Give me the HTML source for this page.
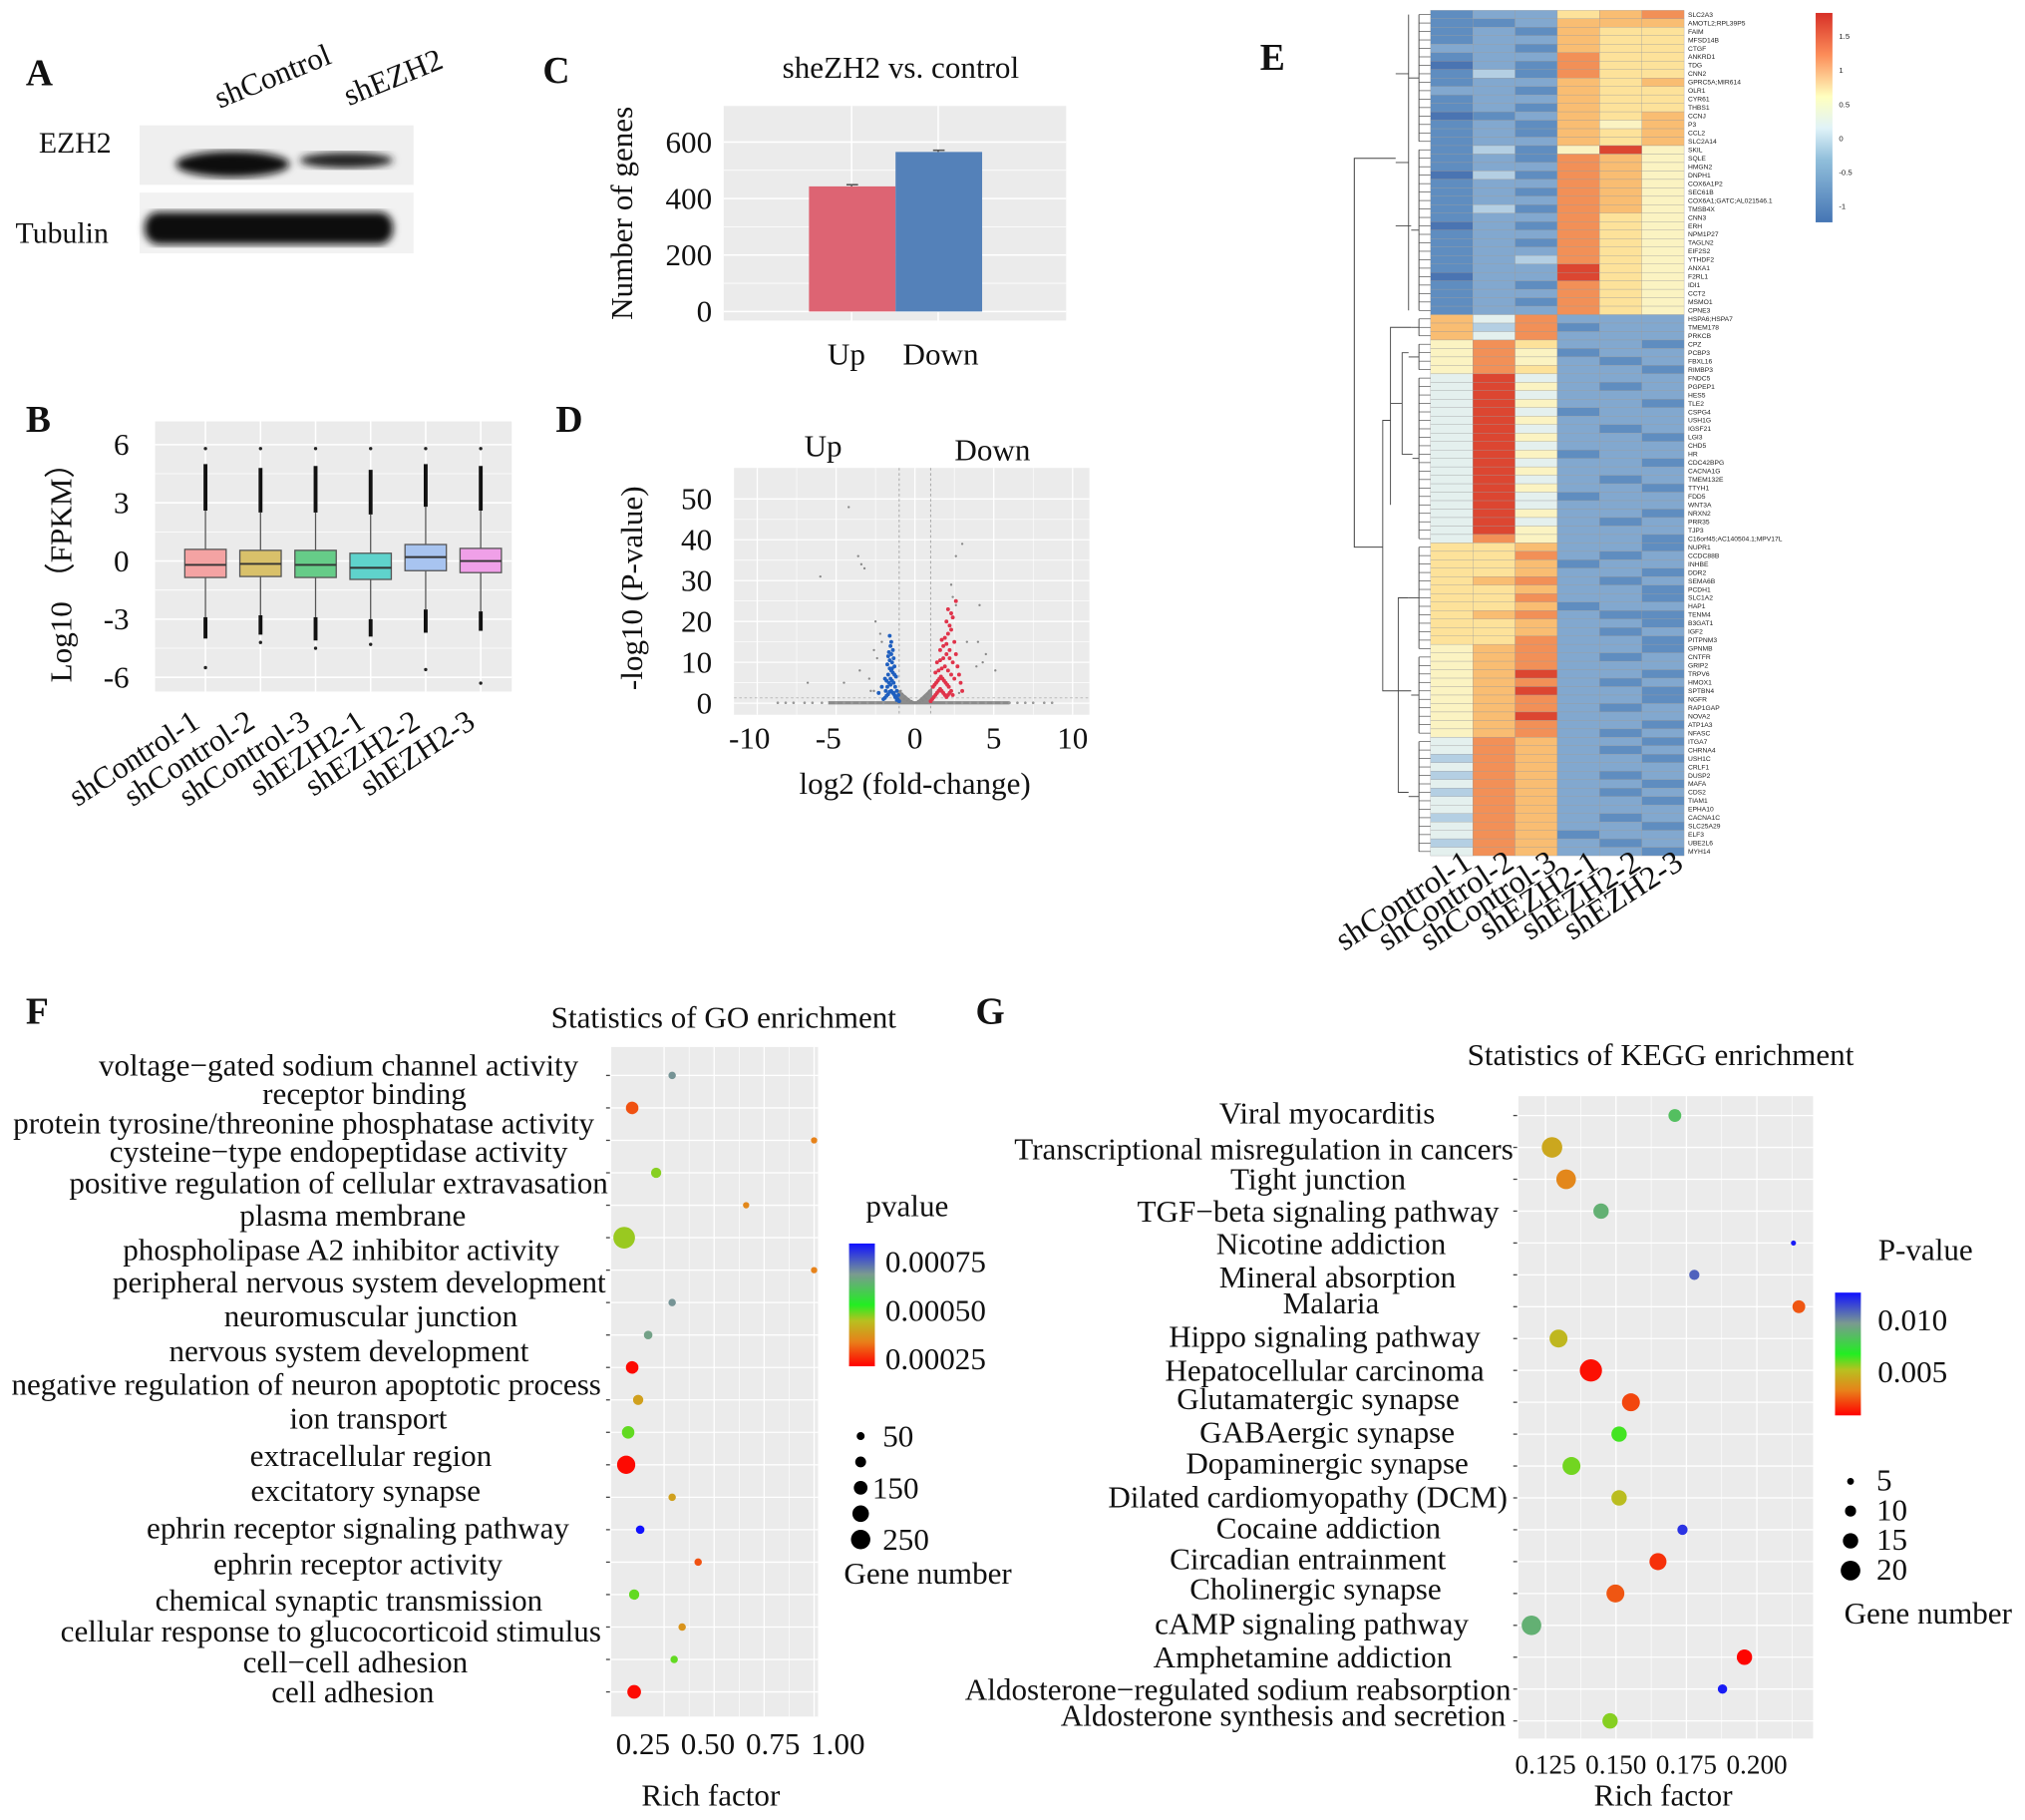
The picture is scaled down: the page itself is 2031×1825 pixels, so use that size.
<!DOCTYPE html>
<html><head><meta charset="utf-8">
<style>
html,body{margin:0;padding:0;background:#fff;}
svg{display:block;}
text{font-family:"Liberation Serif",serif;fill:#111;}
.pl{font-weight:bold;font-size:29px;}
.tk{font-size:24px;}
.tkg{font-size:21px;}
.ax{font-size:24px;}
.lab{font-size:24px;}
.hc{font-size:25px;}
.gn{font-family:"Liberation Sans",sans-serif;font-size:5.2px;fill:#222;}
</style></head>
<body>
<svg id="fig" width="2031" height="1825" viewBox="0 0 1567 1408" preserveAspectRatio="none" xmlns="http://www.w3.org/2000/svg">
<defs>
<filter id="blur3"><feGaussianBlur stdDeviation="3"/></filter>
<filter id="blur1"><feGaussianBlur stdDeviation="1.2"/></filter>
<linearGradient id="gradE" x1="0" y1="1" x2="0" y2="0">
<stop offset="0" stop-color="#4575b4"/><stop offset="0.3" stop-color="#91bfdb"/><stop offset="0.45" stop-color="#e0f3f8"/><stop offset="0.6" stop-color="#ffffbf"/><stop offset="0.8" stop-color="#fc8d59"/><stop offset="1" stop-color="#d73027"/>
</linearGradient>
</defs>

<g>
<text class="pl" x="20" y="66">A</text>
<text class="lab" x="0" y="0" transform="translate(170,84) rotate(-22)">shControl</text>
<text class="lab" x="0" y="0" transform="translate(270,82) rotate(-22)">shEZH2</text>
<text class="lab" x="30" y="118" style="font-size:23px">EZH2</text>
<text class="lab" x="12" y="188" style="font-size:23px">Tubulin</text>
<rect x="108" y="97" width="212" height="46" fill="#efefef"/>
<ellipse cx="180" cy="127" rx="44" ry="10" fill="#111" filter="url(#blur3)"/>
<ellipse cx="268" cy="124" rx="36" ry="6" fill="#222" filter="url(#blur3)"/>
<rect x="108" y="149" width="212" height="47" fill="#f2f2f2"/>
<rect x="112" y="164" width="192" height="25" rx="11" fill="#0a0a0a" filter="url(#blur3)"/>
</g>

<g id="panelC">
<text class="pl" x="420" y="64">C</text>
<text class="ax" x="697" y="60" text-anchor="middle">sheZH2 vs. control</text>
<text class="ax" transform="translate(489,165) rotate(-90)" text-anchor="middle">Number of genes</text>
</g>

<g id="panelB">
<text class="pl" x="20" y="334">B</text>
<text class="ax" transform="translate(55,437) rotate(-90)" text-anchor="middle">Log10 （FPKM）</text>
</g>

<g id="panelD">
<text class="pl" x="430" y="334">D</text>
<text class="ax" x="637" y="353" text-anchor="middle">Up</text>
<text class="ax" x="768" y="356" text-anchor="middle">Down</text>
<text class="ax" transform="translate(497,455) rotate(-90)" text-anchor="middle">-log10 (P-value)</text>
<text class="ax" x="708" y="614" text-anchor="middle">log2 (fold-change)</text>
</g>

<g id="panelE">
<text class="pl" x="975" y="54">E</text>
<rect x="1405" y="10" width="13" height="162" fill="url(#gradE)"/>
</g>

<g id="panelF">
<text class="pl" x="20" y="792">F</text>
<text class="ax" x="560" y="795" text-anchor="middle">Statistics of GO enrichment</text>
<text class="ax" x="550" y="1397" text-anchor="middle">Rich factor</text>
<text class="ax" x="702" y="941" text-anchor="middle">pvalue</text>
<text class="ax" x="718" y="1225" text-anchor="middle">Gene number</text>
</g>

<g id="panelG">
<text class="pl" x="755" y="792">G</text>
<text class="ax" x="1285" y="824" text-anchor="middle">Statistics of KEGG enrichment</text>
<text class="ax" x="1287" y="1397" text-anchor="middle">Rich factor</text>
<text class="ax" x="1490" y="975" text-anchor="middle">P-value</text>
<text class="ax" x="1492" y="1256" text-anchor="middle">Gene number</text>
</g>
</svg>

<script>
// ---------- DATA ----------
const barCats = ["Up","Down"];
const barVals = [443, 565];
const barErr = [6, 6];
const barTicks = [0,200,400,600];
const boxCats = ["shControl-1","shControl-2","shControl-3","shEZH2-1","shEZH2-2","shEZH2-3"];
const boxQ1 = [-0.85,-0.8,-0.85,-0.95,-0.5,-0.6];
const boxMed = [-0.2,-0.15,-0.2,-0.35,0.2,0.0];
const boxQ3 = [0.6,0.55,0.55,0.4,0.85,0.65];
const boxWLo = [-2.9,-2.8,-2.9,-3.0,-2.5,-2.6];
const boxWHi = [2.6,2.5,2.5,2.4,2.8,2.6];
const boxOutHi = [5.0,4.8,4.9,4.7,5.0,4.9];
const boxOutLo = [-4.0,-3.8,-4.1,-3.9,-3.7,-3.6];
const boxMax = [5.8,5.8,5.8,5.8,5.8,5.8];
const boxMin = [-5.5,-4.2,-4.5,-4.3,-5.6,-6.3];
const boxFill = ["#f4a3a3","#d9c16a","#66cc88","#5fd3cc","#a8c4f0","#f0a0e8"];
const boxTicks = [-6,-3,0,3,6];
const volXTicks = [-10,-5,0,5,10];
const volYTicks = [0,10,20,30,40,50];
const blueX = [-1.0,-1.1,-1.2,-1.3,-1.4,-1.5,-1.6,-1.7,-1.8,-1.9,-2.0,-1.15,-1.25,-1.35,-1.45,-1.55,-1.65,-1.75,-1.85,-1.05,-1.2,-1.3,-1.4,-1.5,-1.6,-1.7,-1.8,-1.3,-1.45,-1.6,-1.35,-1.5,-1.65,-1.4,-1.55,-1.7,-1.5,-1.6,-1.45,-1.55,-1.75,-2.1,-1.9,-2.3,-1.35,-1.25,-1.15];
const blueY = [0.5,1.0,1.5,2.0,2.5,3.0,2.8,2.2,1.8,1.3,1.0,3.0,4.0,5.0,5.5,6.0,5.0,4.0,3.0,2.0,6.5,7.0,7.5,8.0,8.5,7.0,5.5,9.0,10.0,10.5,11.0,12.0,12.5,13.0,14.0,11.5,15.0,16.5,8.5,4.5,9.5,4.0,6.0,2.5,2.5,1.5,0.8];
const redX = [1.0,1.1,1.2,1.3,1.4,1.5,1.6,1.7,1.8,1.9,2.0,2.1,2.2,2.3,2.4,1.15,1.25,1.35,1.45,1.55,1.65,1.75,1.85,1.95,2.05,2.15,1.3,1.5,1.7,1.9,2.1,2.3,2.5,1.4,1.6,1.8,2.0,2.2,2.4,1.6,1.8,2.0,2.2,2.6,1.9,2.1,2.3,2.5,2.7,2.0,2.2,2.4,2.1,2.3,2.8,1.7,2.6,2.9,3.0];
const redY = [0.5,1.0,1.5,2.0,2.5,3.0,3.5,3.0,2.5,2.0,1.5,2.0,2.5,3.0,2.0,4.0,4.5,5.0,5.5,6.0,6.5,6.0,5.5,5.0,4.5,4.0,7.5,8.0,8.5,9.0,8.0,7.0,6.0,10.0,10.5,11.0,12.0,11.0,10.0,13.0,14.0,14.5,13.0,12.0,16.0,17.0,18.0,15.0,9.0,20.0,19.0,21.0,23.0,22.0,7.0,15.5,25.0,5.0,3.0];
const grayX = [-4.2,-3.4,-3.2,-3.6,-6.0,-2.5,-2.2,-2.1,-2.6,-2.4,-3.5,-2.9,-6.8,-4.5,-2.8,-2.6,2.6,3.0,2.3,2.4,2.6,4.1,3.3,4.0,4.5,4.3,3.9,5.1,2.8,-0.2,0.2,-0.4,0.4,-0.6,0.6,-0.8,0.8,-0.3,0.3,-0.5,0.5,-0.7,0.7,-0.9,0.9,0,-0.1,0.1];
const grayY = [48,34,33,36,31,20,17,15,13,11,8,6,5,5,3,3,36,39,29,26,24,24,15,15,12,10,9,8,2.5,0.5,0.5,1.0,1.0,1.6,1.6,2.3,2.3,0.3,0.3,0.6,0.6,1.1,1.1,3.0,3.0,0.1,0.2,0.2];
const baseX = [-8.7,-8.2,-7.7,-7.0,-6.5,-5.9,-5.0,-4.5,-4.0,-3.5,-3.0,-2.5,-2.0,2.0,2.5,3.0,3.5,4.0,4.5,5.0,5.5,6.0,6.5,7.0,7.5,8.2,8.7];
const heatCols = ["shControl-1","shControl-2","shControl-3","shEZH2-1","shEZH2-2","shEZH2-3"];
const heatGenes = ["SLC2A3","AMOTL2;RPL39P5","FAIM","MFSD14B","CTGF","ANKRD1","TDG","CNN2","GPRC5A;MIR614","OLR1","CYR61","THBS1","CCNJ","P3","CCL2","SLC2A14","SKIL","SQLE","HMGN2","DNPH1","COX6A1P2","SEC61B","COX6A1;GATC;AL021546.1","TMSB4X","CNN3","ERH","NPM1P27","TAGLN2","EIF2S2","YTHDF2","ANXA1","F2RL1","IDI1","CCT2","MSMO1","CPNE3",
"HSPA6;HSPA7","TMEM178","PRKCB","CPZ","PCBP3","FBXL16","RIMBP3","FNDC5","PGPEP1","HES5","TLE2","CSPG4","USH1G","IGSF21","LGI3","CHD5","HR","CDC42BPG","CACNA1G","TMEM132E","TTYH1","FDD5","WNT3A","NRXN2","PRR35","TJP3","C16orf45;AC140504.1;MPV17L","NUPR1","CCDC88B","INHBE","DDR2","SEMA6B","PCDH1","SLC1A2","HAP1","TENM4","B3GAT1","IGF2","PITPNM3","GPNMB","CNTFR","GRIP2","TRPV6","HMOX1","SPTBN4","NGFR","RAP1GAP","NOVA2","ATP1A3","NFASC","ITGA7","CHRNA4","USH1C","CRLF1","DUSP2","MAFA","CDS2","TIAM1","EPHA10","CACNA1C","SLC25A29","ELF3","UBE2L6","MYH14"];
const heatLevels = ["122678","112777","121766","122766","221766","122866","021866","131866","122767","221766","122766","121766","012767","121757","121767","122767","131595","121875","122875","031875","122875","121875","122875","131875","122865","021865","122865","121865","122865","123865","122965","022965","121865","122865","121865","122865",
"748222","738122","748222","586221","585122","585212","586221","494222","495212","494222","495221","494122","495222","494212","495221","494222","495122","494221","495222","494212","495221","494122","494222","495221","494212","495222","485221","667221","668212","667122","667221","678212","667221","668221","667122","678211","667221","667212","668221","578221","578212","578222","579221","578212","579221","578221","578212","579222","578221","578212","487221","487212","387221","487222","387212","487221","387212","487221","487222","387212","487221","487122","387212","487221"];
const levelColors = ["#4a74b2","#5f8dc0","#82a8cf","#b4cfe3","#e4f0ee","#fbf3c2","#fde29a","#f9bd72","#f29057","#dc4631"];
const heatLegendTicks = [1.5,1,0.5,0,-0.5,-1];
const goTerms = ["voltage\u2212gated sodium channel activity","receptor binding","protein tyrosine/threonine phosphatase activity","cysteine\u2212type endopeptidase activity","positive regulation of cellular extravasation","plasma membrane","phospholipase A2 inhibitor activity","peripheral nervous system development","neuromuscular junction","nervous system development","negative regulation of neuron apoptotic process","ion transport","extracellular region","excitatory synapse","ephrin receptor signaling pathway","ephrin receptor activity","chemical synaptic transmission","cellular response to glucocorticoid stimulus","cell\u2212cell adhesion","cell adhesion"];
const goRich = [0.29,0.09,1.0,0.21,0.66,0.05,1.0,0.29,0.17,0.09,0.12,0.07,0.06,0.29,0.13,0.42,0.10,0.34,0.30,0.10];
const goPval = [0.0007,0.0003,0.00035,0.00048,0.00036,0.00047,0.00035,0.0007,0.00068,0.00023,0.0004,0.0005,0.00023,0.0004,0.00085,0.0003,0.0005,0.00038,0.0005,0.00023];
const goCount = [40,130,20,90,20,290,20,40,60,130,90,130,230,40,60,40,90,40,40,150];
const goTicks = [0.25,0.50,0.75,1.00];
const goTickLabels = ["0.25","0.50","0.75","1.00"];
const goSizeLegend = [50,100,150,200,250];
const goPLegend = [0.00075,0.00050,0.00025];
const keggTerms = ["Viral myocarditis","Transcriptional misregulation in cancers","Tight junction","TGF\u2212beta signaling pathway","Nicotine addiction","Mineral absorption","Malaria","Hippo signaling pathway","Hepatocellular carcinoma","Glutamatergic synapse","GABAergic synapse","Dopaminergic synapse","Dilated cardiomyopathy (DCM)","Cocaine addiction","Circadian entrainment","Cholinergic synapse","cAMP signaling pathway","Amphetamine addiction","Aldosterone\u2212regulated sodium reabsorption","Aldosterone synthesis and secretion"];
const keggRich = [0.1709,0.1273,0.1323,0.1447,0.213,0.1778,0.2149,0.1296,0.1411,0.1553,0.1511,0.1342,0.1511,0.1736,0.1649,0.1498,0.12,0.1956,0.1878,0.1479];
const keggPval = [0.0085,0.0045,0.0035,0.009,0.0125,0.011,0.0025,0.005,0.0012,0.0022,0.0065,0.006,0.0052,0.012,0.0018,0.0025,0.009,0.001,0.0125,0.0058];
const keggCount = [12,21,20,15,3,9,12,18,23,18,15,18,15,9,17,18,20,15,8,15];
const keggTicks = [0.125,0.150,0.175,0.200];
const keggTickLabels = ["0.125","0.150","0.175","0.200"];
const keggSizeLegend = [5,10,15,20];
const keggPLegend = [0.010,0.005];

// ---------- HELPERS ----------
const NS = "http://www.w3.org/2000/svg";
function mk(parent, tag, attrs, txt){
  const e = document.createElementNS(NS, tag);
  for (const k in attrs) e.setAttribute(k, attrs[k]);
  if (txt !== undefined) e.textContent = txt;
  parent.appendChild(e);
  return e;
}
function hex(c){return [parseInt(c.substr(1,2),16),parseInt(c.substr(3,2),16),parseInt(c.substr(5,2),16)];}
const pStops = [[0,"#ff0000"],[0.2,"#e8801a"],[0.37,"#b8c020"],[0.5,"#22ee22"],[0.75,"#7a9a90"],[1,"#1010ff"]];
function pColor(t){
  t=Math.max(0,Math.min(1,t));
  for(let i=1;i<pStops.length;i++){
    if(t<=pStops[i][0]){
      const a=pStops[i-1],b=pStops[i];const f=(t-a[0])/(b[0]-a[0]);
      const ca=hex(a[1]),cb=hex(b[1]);
      return "rgb("+ca.map((v,j)=>Math.round(v+(cb[j]-v)*f)).join(",")+")";
    }
  }
  return pStops[pStops.length-1][1];
}
function pGradient(id){
  const defs=document.querySelector("defs");
  const g=mk(defs,"linearGradient",{id:id,x1:0,y1:1,x2:0,y2:0});
  pStops.forEach(s=>mk(g,"stop",{offset:s[0],"stop-color":s[1]}));
}

// ---------- PANEL C ----------
(function(){
  const g=document.getElementById("panelC");
  const y=v=>241-v*0.2185;
  const bx=i=>626+i*67;
  const bg=mk(g,"rect",{x:560,y:82,width:265,height:166,fill:"#ebebeb"});
  
  
  [100,300,500].forEach(v=>mk(g,"line",{x1:560,x2:825,y1:y(v),y2:y(v),stroke:"#fff","stroke-width":0.6}));
  barTicks.forEach(v=>{
    mk(g,"line",{x1:560,x2:825,y1:y(v),y2:y(v),stroke:"#fff","stroke-width":1.2});
    const t=mk(g,"text",{class:"tk",x:551,y:y(v)+8,"text-anchor":"end"},String(v));
    
    
  });
  barCats.forEach((c,i)=>{
    mk(g,"line",{x1:bx(i)+33,x2:bx(i)+33,y1:82,y2:248,stroke:"#fff","stroke-width":1.2});
  });
  const cols=["#dd6473","#5481b9"];
  barCats.forEach((c,i)=>{
    const r=mk(g,"rect",{x:bx(i),y:y(barVals[i]),width:67,height:y(0)-y(barVals[i]),fill:cols[i]});
    
    
    mk(g,"line",{x1:bx(i)+29,x2:bx(i)+38,y1:y(barVals[i]+barErr[i]),y2:y(barVals[i]+barErr[i]),stroke:"#555","stroke-width":1.2});
    mk(g,"line",{x1:bx(i)+33,x2:bx(i)+33,y1:y(barVals[i]+barErr[i]),y2:y(barVals[i]),stroke:"#555","stroke-width":1.2});
    const t=mk(g,"text",{class:"ax",x:[655,728][i],y:282,"text-anchor":"middle"},c);
    
    
  });
})();

// ---------- PANEL B ----------
(function(){
  const g=document.getElementById("panelB");
  const y=v=>434-v*15;
  const cx=i=>159+i*42.6;
  const bg=mk(g,"rect",{x:120,y:326,width:276,height:209,fill:"#ebebeb"});
  
  
  [-4.5,-1.5,1.5,4.5].forEach(v=>mk(g,"line",{x1:120,x2:396,y1:y(v),y2:y(v),stroke:"#fff","stroke-width":0.6}));
  boxTicks.forEach(v=>{
    mk(g,"line",{x1:120,x2:396,y1:y(v),y2:y(v),stroke:"#fff","stroke-width":1.2});
    const t=mk(g,"text",{class:"tk",x:100,y:y(v)+8,"text-anchor":"end"},String(v));
    
    
  });
  boxCats.forEach((c,i)=>{
    const x=cx(i);
    mk(g,"line",{x1:x,x2:x,y1:326,y2:535,stroke:"#fff","stroke-width":1.2});
    mk(g,"line",{x1:x,x2:x,y1:y(boxWHi[i]),y2:y(boxQ3[i]),stroke:"#555","stroke-width":1});
    mk(g,"line",{x1:x,x2:x,y1:y(boxWLo[i]),y2:y(boxQ1[i]),stroke:"#555","stroke-width":1});
    mk(g,"line",{x1:x,x2:x,y1:y(boxOutHi[i]),y2:y(boxWHi[i]),stroke:"#111","stroke-width":3});
    mk(g,"line",{x1:x,x2:x,y1:y(boxWLo[i]),y2:y(boxOutLo[i]),stroke:"#111","stroke-width":3});
    mk(g,"circle",{cx:x,cy:y(boxMax[i]),r:1.3,fill:"#222"});
    mk(g,"circle",{cx:x,cy:y(boxMin[i]),r:1.3,fill:"#222"});
    const r=mk(g,"rect",{x:x-16,y:y(boxQ3[i]),width:32,height:y(boxQ1[i])-y(boxQ3[i]),fill:boxFill[i],stroke:"#555","stroke-width":1});
    
    
    mk(g,"line",{x1:x-16,x2:x+16,y1:y(boxMed[i]),y2:y(boxMed[i]),stroke:"#333","stroke-width":1.5});
    const t=mk(g,"text",{class:"tk",transform:"translate("+(x-3)+",562) rotate(-33)","text-anchor":"end"},c);
    
    
  });
})();

// ---------- PANEL D ----------
(function(){
  const g=document.getElementById("panelD");
  const x=v=>708+v*12.2;
  const y=v=>544-v*3.16;
  const bg=mk(g,"rect",{x:568,y:362,width:275,height:191,fill:"#ebebeb"});
  
  
  [5,15,25,35,45].forEach(v=>mk(g,"line",{x1:568,x2:843,y1:y(v),y2:y(v),stroke:"#fff","stroke-width":0.5}));
  [-7.5,-2.5,2.5,7.5].forEach(v=>mk(g,"line",{x1:x(v),x2:x(v),y1:362,y2:553,stroke:"#fff","stroke-width":0.5}));
  volYTicks.forEach(v=>{
    mk(g,"line",{x1:568,x2:843,y1:y(v),y2:y(v),stroke:"#fff","stroke-width":1});
    const t=mk(g,"text",{class:"tk",x:551,y:y(v)+8,"text-anchor":"end"},String(v));
    
    
  });
  volXTicks.forEach(v=>{
    mk(g,"line",{x1:x(v),x2:x(v),y1:362,y2:553,stroke:"#fff","stroke-width":1});
    const t=mk(g,"text",{class:"tk",x:x(v)-(v<0?6:0),y:579,"text-anchor":"middle"},String(v));
    
    
  });
  mk(g,"line",{x1:x(-1),x2:x(-1),y1:362,y2:553,stroke:"#aaa","stroke-dasharray":"2,2","stroke-width":0.8});
  mk(g,"line",{x1:x(1),x2:x(1),y1:362,y2:553,stroke:"#aaa","stroke-dasharray":"2,2","stroke-width":0.8});
  mk(g,"line",{x1:568,x2:843,y1:y(1.3),y2:y(1.3),stroke:"#bbb","stroke-dasharray":"2,2","stroke-width":0.8});
  mk(g,"line",{x1:x(-5.5),x2:x(6),y1:y(0.1),y2:y(0.1),stroke:"#8a8a8a","stroke-width":2.5});
  baseX.forEach(v=>mk(g,"circle",{cx:x(v),cy:y(0.1),r:1,fill:"#999"}));
  mk(g,"path",{d:"M"+x(-1.1)+","+y(3.5)+" L"+x(0)+","+y(0)+" L"+x(1.1)+","+y(4)+" L"+x(1.1)+","+y(0)+" L"+x(-1.1)+","+y(0)+"Z",fill:"#8c8c8c"});
  grayX.forEach((v,i)=>{
    const c=mk(g,"circle",{cx:x(v),cy:y(grayY[i]),r:0.9,fill:"#888"});
    
    
  });
  blueX.forEach((v,i)=>{
    const c=mk(g,"circle",{cx:x(v),cy:y(blueY[i]),r:1.5,fill:"#1f5fbf"});
    
    
  });
  redX.forEach((v,i)=>{
    const c=mk(g,"circle",{cx:x(v),cy:y(redY[i]),r:1.5,fill:"#e0334a"});
    
    
  });
})();

// ---------- PANEL E ----------
(function(){
  const g=document.getElementById("panelE");
  const x0=1107,cw=32.7,y0=8,rh=6.54;
  heatLevels.forEach((row,r)=>{
    for(let c=0;c<6;c++){
      const cell=mk(g,"rect",{x:x0+c*cw,y:y0+r*rh,width:cw,height:rh,fill:levelColors[+row[c]],stroke:"#9a9a9a","stroke-width":0.25});
      
      
    }
    const t=mk(g,"text",{class:"gn",x:x0+6*cw+3,y:y0+r*rh+5},heatGenes[r]);
    
    
    mk(g,"line",{x1:1098,x2:x0,y1:y0+r*rh+rh/2,y2:y0+r*rh+rh/2,stroke:"#444","stroke-width":0.5});
  });
  const ym=r=>y0+r*rh+rh/2;
  const segs=[[0,15,1098,1090],[16,35,1098,1092],[0,35,1090,1080],[36,38,1098,1092],[39,42,1098,1090],[43,62,1098,1093],[63,75,1098,1090],[76,85,1098,1092],[86,99,1098,1090]];
  segs.forEach(s=>{
    mk(g,"line",{x1:s[2],x2:s[2],y1:ym(s[0]),y2:ym(s[1]),stroke:"#444","stroke-width":0.7});
    mk(g,"line",{x1:s[3],x2:s[2],y1:(ym(s[0])+ym(s[1]))/2,y2:(ym(s[0])+ym(s[1]))/2,stroke:"#444","stroke-width":0.7});
  });
  mk(g,"path",{d:"M1092,"+ym(25)+" H1080 M1090,"+ym(7)+" H1080",stroke:"#444","stroke-width":0.7,fill:"none"});
  mk(g,"path",{d:"M1092,"+ym(37)+" H1076 V"+ym(58)+" M1090,"+ym(40)+" H1085 V"+ym(52)+" H1093 M1085,"+ym(46)+" H1076 M1090,"+ym(69)+" H1082 V"+ym(92)+" H1090 M1092,"+ym(80)+" H1082 M1082,"+ym(80)+" H1070 V"+ym(48)+" H1076",stroke:"#444","stroke-width":0.7,fill:"none"});
  mk(g,"path",{d:"M1080,"+ym(17)+" H1048 V"+ym(63)+" H1070",stroke:"#444","stroke-width":0.8,fill:"none"});
  heatCols.forEach((c,i)=>{
    const t=mk(g,"text",{class:"hc",transform:"translate("+(x0+i*cw+cw/2+17)+",671) rotate(-33)","text-anchor":"end"},c);
    
    
  });
  heatLegendTicks.forEach(v=>{
    const yy=107-v*52.5;
    const t=mk(g,"text",{class:"gn",x:1423,y:yy+2,style:"font-size:6px"},String(v));
    
    
  });
})();

// ---------- PANEL F ----------
(function(){
  const g=document.getElementById("panelF");
  const x=v=>483+(v-0.05)*154.7;
  const y=i=>832+i*25.1;
  const labY=[824,846,869,891,915,940,967,992,1018,1045,1071,1097,1126,1153,1182,1210,1238,1262,1286,1309];
  const labX=[262,282,235,262,262,273,264,278,287,270,237,285,287,283,277,277,270,256,275,273];
  const pMin=0.00022,pMax=0.00085;
  const bg=mk(g,"rect",{x:473,y:810,width:160,height:518,fill:"#ebebeb"});
  
  
  [0.375,0.625,0.875].forEach(v=>mk(g,"line",{x1:x(v),x2:x(v),y1:810,y2:1328,stroke:"#fff","stroke-width":0.5}));
  goTicks.forEach((v,i)=>{
    mk(g,"line",{x1:x(v),x2:x(v),y1:810,y2:1328,stroke:"#fff","stroke-width":1});
    const t=mk(g,"text",{class:"tk",x:573+(x(v)-572)*1.3,y:1357,"text-anchor":"middle"},goTickLabels[i]);
    
    
  });
  goTerms.forEach((term,i)=>{
    mk(g,"line",{x1:473,x2:633,y1:y(i),y2:y(i),stroke:"#fff","stroke-width":1});
    mk(g,"line",{x1:469,x2:472,y1:y(i),y2:y(i),stroke:"#444","stroke-width":1});
    const t=mk(g,"text",{class:"lab",x:labX[i],y:labY[i]+8,"text-anchor":"middle"},term);
    
    
  });
  goTerms.forEach((term,i)=>{
    const c=mk(g,"circle",{cx:x(goRich[i]),cy:y(i),r:2+goCount[i]*0.022,fill:pColor((goPval[i]-pMin)/(pMax-pMin))});
    
    
  });
  pGradient("gradF");
  const cb=mk(g,"rect",{x:657,y:962,width:20,height:95,fill:"url(#gradF)"});
  
  
  goPLegend.forEach(v=>{
    const yy=1057-(v-pMin)/(pMax-pMin)*95;
    const t=mk(g,"text",{class:"tk",x:685,y:yy+7},v.toFixed(5));
    
    
  });
  goSizeLegend.forEach((v,i)=>{
    mk(g,"circle",{cx:666,cy:1111+i*20,r:2+v*0.022,fill:"#000"});
    if(i%2===0){
      const t=mk(g,"text",{class:"tk",x:[683,675,683][i/2],y:1119+i*20},String(v));
      
      
    }
  });
})();

// ---------- PANEL G ----------
(function(){
  const g=document.getElementById("panelG");
  const x=v=>1196+(v-0.125)*2180;
  const y=i=>863+i*24.65;
  const labY=[861,889,912,937,962,988,1008,1034,1060,1082,1108,1132,1158,1182,1206,1229,1256,1282,1307,1327];
  const labX=[1027,978,1020,1020,1030,1035,1030,1025,1025,1020,1027,1027,1012,1028,1012,1018,1015,1008,958,993];
  const pMin=0.0009,pMax=0.01275;
  const bg=mk(g,"rect",{x:1175,y:848,width:228,height:497,fill:"#ebebeb"});
  
  
  [0.1375,0.1625,0.1875,0.2125].forEach(v=>mk(g,"line",{x1:x(v),x2:x(v),y1:848,y2:1345,stroke:"#fff","stroke-width":0.5}));
  keggTicks.forEach((v,i)=>{
    mk(g,"line",{x1:x(v),x2:x(v),y1:848,y2:1345,stroke:"#fff","stroke-width":1});
    const t=mk(g,"text",{class:"tkg",x:x(v),y:1372,"text-anchor":"middle"},keggTickLabels[i]);
    
    
  });
  keggTerms.forEach((term,i)=>{
    mk(g,"line",{x1:1175,x2:1403,y1:y(i),y2:y(i),stroke:"#fff","stroke-width":1});
    mk(g,"line",{x1:1171,x2:1174,y1:y(i),y2:y(i),stroke:"#444","stroke-width":1});
    const t=mk(g,"text",{class:"lab",x:labX[i],y:labY[i]+8,"text-anchor":"middle"},term);
    
    
  });
  keggTerms.forEach((term,i)=>{
    const c=mk(g,"circle",{cx:x(keggRich[i]),cy:y(i),r:1+keggCount[i]*0.33,fill:pColor((keggPval[i]-pMin)/(pMax-pMin))});
    
    
  });
  pGradient("gradG");
  const cb=mk(g,"rect",{x:1420,y:1000,width:20,height:95,fill:"url(#gradG)"});
  
  
  keggPLegend.forEach(v=>{
    const yy=1095-(v-pMin)/(pMax-pMin)*95;
    const t=mk(g,"text",{class:"tk",x:1453,y:yy+7},v.toFixed(3));
    
    
  });
  keggSizeLegend.forEach((v,i)=>{
    mk(g,"circle",{cx:1432,cy:1146+i*23,r:1+v*0.33,fill:"#000"});
    const t=mk(g,"text",{class:"tk",x:1452,y:1153+i*23},String(v));
    
    
  });
})();
</script>
</body></html>
